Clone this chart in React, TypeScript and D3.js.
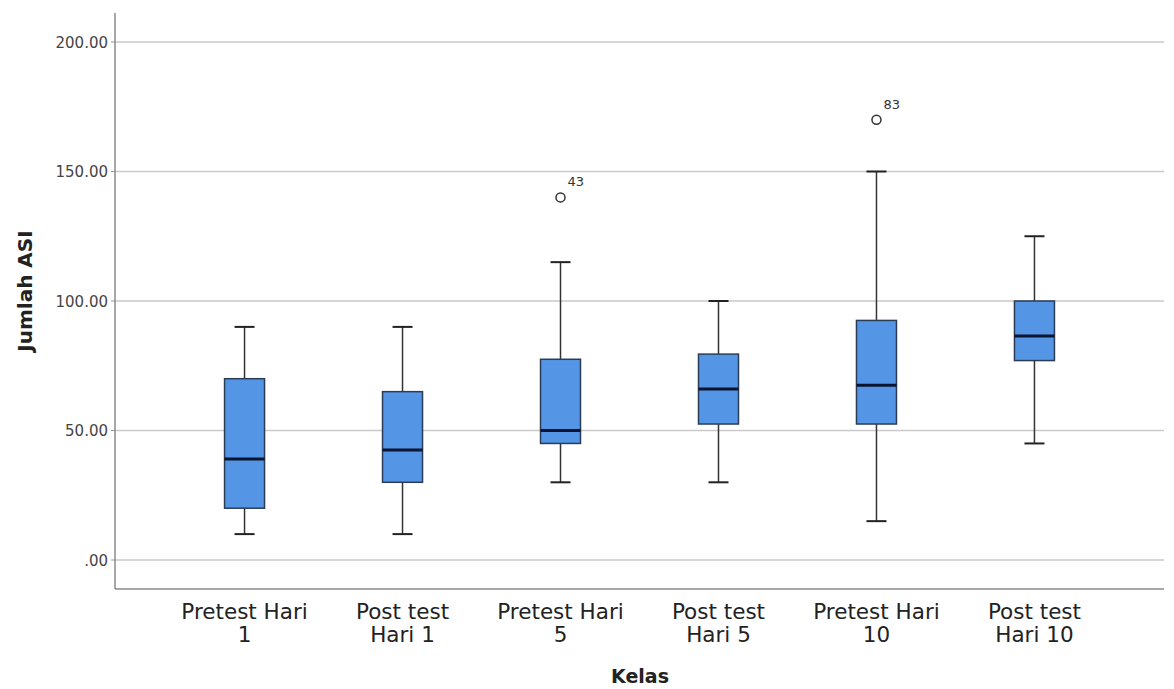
import React from 'react';
import * as d3 from 'd3';

// values
const categories = ['Pretest Hari 1', 'Post test Hari 1', 'Pretest Hari 5', 'Post test Hari 5', 'Pretest Hari 10', 'Post test Hari 10'];
const labelLines = [['Pretest Hari', '1'], ['Post test', 'Hari 1'], ['Pretest Hari', '5'], ['Post test', 'Hari 5'], ['Pretest Hari', '10'], ['Post test', 'Hari 10']];
const whiskerLow = [10, 10, 30, 30, 15, 45];
const q1 = [20, 30, 45, 52.5, 52.5, 77];
const median = [39, 42.5, 50, 66, 67.5, 86.5];
const q3 = [70, 65, 77.5, 79.5, 92.5, 100];
const whiskerHigh = [90, 90, 115, 100, 150, 125];
const outliers = [
  { cat: 'Pretest Hari 5', value: 140, label: '43' },
  { cat: 'Pretest Hari 10', value: 170, label: '83' },
];
const yTicks = [0, 50, 100, 150, 200];

export default function App() {
  const width = 1174;
  const height = 689;
  const left = 115;
  const right = 1164;
  const top = 13;
  const bottom = 589;

  const y = d3.scaleLinear().domain([0, 200]).range([560, 42]);
  const x = d3.scalePoint<string>().domain(categories).range([left, right]).padding(0.82);

  const boxW = 40;
  const capW = 20;
  const font = "'DejaVu Sans', sans-serif";
  const fmt = (v: number) => (v === 0 ? '.00' : d3.format('.2f')(v));

  return (
    <svg width={width} height={height} style={{ position: 'absolute', left: 0, top: 0, background: '#fff' }}>
      {/* grid */}
      {yTicks.map(t => (
        <g key={t}>
          <line x1={left} x2={right} y1={y(t)} y2={y(t)} stroke="#c9c9c9" strokeWidth={1.5} />
          <line x1={left - 4} x2={left} y1={y(t)} y2={y(t)} stroke="#999" strokeWidth={1} />
          <text x={108} y={y(t) + 5.5} textAnchor="end" fontFamily={font} fontSize={15} fill="#444">{fmt(t)}</text>
        </g>
      ))}

      {/* axes */}
      <line x1={left} x2={left} y1={top} y2={bottom} stroke="#8a8a8a" strokeWidth={1.5} />
      <line x1={left} x2={right} y1={bottom} y2={bottom} stroke="#8a8a8a" strokeWidth={1.5} />

      {/* boxes */}
      {categories.map((c, i) => {
        const cx = x(c)!;
        return (
          <g key={c}>
            <line x1={cx} x2={cx} y1={y(whiskerHigh[i])} y2={y(q3[i])} stroke="#333" strokeWidth={1.5} />
            <line x1={cx} x2={cx} y1={y(q1[i])} y2={y(whiskerLow[i])} stroke="#333" strokeWidth={1.5} />
            <line x1={cx - capW / 2} x2={cx + capW / 2} y1={y(whiskerHigh[i])} y2={y(whiskerHigh[i])} stroke="#222" strokeWidth={2} />
            <line x1={cx - capW / 2} x2={cx + capW / 2} y1={y(whiskerLow[i])} y2={y(whiskerLow[i])} stroke="#222" strokeWidth={2} />
            <rect x={cx - boxW / 2} y={y(q3[i])} width={boxW} height={y(q1[i]) - y(q3[i])} fill="#5595e5" stroke="#2b3d55" strokeWidth={1.5} />
            <line x1={cx - boxW / 2} x2={cx + boxW / 2} y1={y(median[i])} y2={y(median[i])} stroke="#0b1530" strokeWidth={3} />
          </g>
        );
      })}

      {/* outliers */}
      {outliers.map(o => (
        <g key={o.label}>
          <circle cx={x(o.cat)!} cy={y(o.value)} r={4.5} fill="#fff" stroke="#333" strokeWidth={1.5} />
          <text x={x(o.cat)! + 7} y={y(o.value) - 11} fontFamily={font} fontSize={13} fill="#333">{o.label}</text>
        </g>
      ))}

      {/* category labels */}
      {categories.map((c, i) => (
        <text key={c} x={x(c)!} textAnchor="middle" fontFamily={font} fontSize={21.5} fill="#222">
          {labelLines[i].map((l, j) => (
            <tspan key={j} x={x(c)!} y={619 + j * 23}>{l}</tspan>
          ))}
        </text>
      ))}

      {/* axis titles */}
      <text x={640} y={683} textAnchor="middle" fontFamily={font} fontWeight="bold" fontSize={19} fill="#222">Kelas</text>
      <text transform={`translate(32,${291}) rotate(-90)`} textAnchor="middle" fontFamily={font} fontWeight="bold" fontSize={20} fill="#222">Jumlah ASI</text>
    </svg>
  );
}
